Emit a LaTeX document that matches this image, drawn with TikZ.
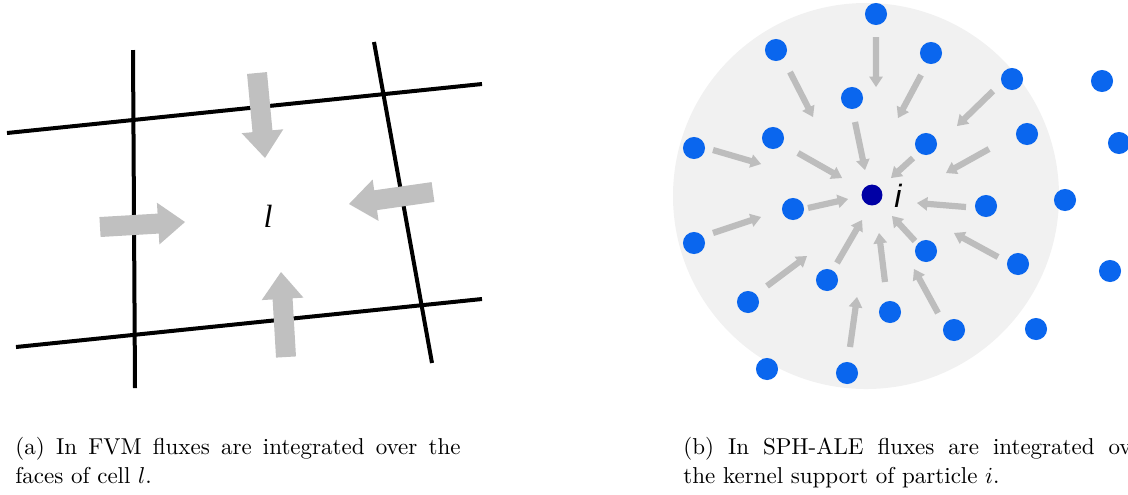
\documentclass[tikz,border=0pt]{standalone}
\usepackage{fontspec}
\newfontfamily\timesfam{Liberation Serif}
\newfontfamily\arialfam{Liberation Sans}
\usetikzlibrary{calc}
\definecolor{fluxgray}{HTML}{C0C0C0}
\definecolor{arrowgray}{HTML}{BDBDBD}
\definecolor{kernelgray}{HTML}{F1F1F1}
\definecolor{partblue}{RGB}{10,102,238}
\definecolor{centerblue}{RGB}{0,0,165}
% #1 tail, #2 tip, #3 shaft half width, #4 head half width, #5 head length, #6 style
\newcommand{\blockarrow}[6]{%
  \coordinate (#1-base) at ($(#2)!#5!(#1)$);
  \fill[#6] ($(#1)!#3!90:(#2)$) -- ($(#1-base)!#3!90:(#2)$) -- ($(#1-base)!#4!90:(#2)$) -- (#2)
    -- ($(#1-base)!#4!-90:(#2)$) -- ($(#1-base)!#3!-90:(#2)$) -- ($(#1)!#3!-90:(#2)$) -- cycle;
}
\newcommand{\bigflux}[2]{\blockarrow{#1}{#2}{4.35pt}{9.1pt}{11.7pt}{bigfluxfill}}
\newcommand{\smallflux}[2]{\blockarrow{#1}{#2}{1.35pt}{3pt}{4.5pt}{smallfluxfill}}
\begin{document}
\begin{tikzpicture}[x=0.435pt,y=-0.435pt,
  gridline/.style={line width=1.74pt, black},
  bigfluxfill/.style={fill=fluxgray},
  smallfluxfill/.style={fill=arrowgray},
  particle/.style={circle, fill=partblue, minimum size=9.6pt, inner sep=0pt},
  centerparticle/.style={circle, fill=centerblue, minimum size=9.1pt, inner sep=0pt},
  captext/.style={anchor=base west, inner sep=0pt, font=\fontsize{10}{12}\selectfont}]
\useasboundingbox (0,0) rectangle (1128,494);
\clip (0,0) rectangle (1128,494);

% ---------- (a) FVM cell ----------
\draw[gridline] (7,133) -- (482,84);
\draw[gridline] (16,347) -- (482,299);
\draw[gridline] (133,50) -- (135,388);
\draw[gridline] (374,42) -- (432,363);

\coordinate (ft1) at (257,73);  \coordinate (fh1) at (265,158);
\coordinate (ft2) at (100,227); \coordinate (fh2) at (185,222);
\coordinate (ft3) at (433,192); \coordinate (fh3) at (349,204);
\coordinate (ft4) at (286,357); \coordinate (fh4) at (281,272);
\bigflux{ft1}{fh1}
\bigflux{ft2}{fh2}
\bigflux{ft3}{fh3}
\bigflux{ft4}{fh4}

\node[anchor=base, inner sep=0pt, font=\timesfam\itshape\fontsize{14}{16}\selectfont] (cell) at (268,227) {l};

% ---------- (b) SPH-ALE kernel ----------
\fill[kernelgray] (866,196) circle[radius=83.96pt];

\foreach \n/\tx/\ty/\hx/\hy in {
  1/876/37/876/87, 2/790/72/813/117, 3/921/75/898/118, 4/993/91/957/126,
  5/855/122/865/170, 6/713/150/761/164, 7/798/153/842/178, 8/913/158/891/178,
  9/989/149/946/173, 10/808/208/848/199, 11/966/207/917/203, 12/713/233/761/217,
  13/837/263/862/220, 14/885/282/879/233, 15/915/241/892/216, 16/998/257/954/233,
  17/767/286/807/256, 18/850/347/857/297, 19/938/313/914/269}{
  \coordinate (st\n) at (\tx,\ty);
  \coordinate (sh\n) at (\hx,\hy);
  \smallflux{st\n}{sh\n}
}

\foreach \n/\px/\py in {
  1/876/14, 2/776/50, 3/931/53, 4/1012/79, 5/1102/81, 6/852/98, 7/694/148,
  8/773/138, 9/926/144, 10/1027/134, 11/1119/143, 12/1065/200, 13/793/209,
  14/986/206, 15/694/243, 16/926/251, 17/1018/264, 18/1110/271, 19/827/280,
  20/748/302, 21/890/312, 22/954/330, 23/1036/329, 24/767/369, 25/847/373}{
  \node[particle] (p\n) at (\px,\py) {};
}
\node[centerparticle] (ci) at (872,195) {};
\node[anchor=base, inner sep=0pt, font=\arialfam\itshape\fontsize{14}{16}\selectfont] (ilabel) at (898,207) {i};

% ---------- captions ----------
\node[captext] (capa1) at (15,454) {\makebox[193.6pt][s]{(a) In FVM fluxes are integrated over the}};
\node[captext] (capa2) at (15,483) {faces of cell $l$.};
\node[captext] (capb1) at (683,454) {\makebox[203pt][s]{(b) In SPH-ALE fluxes are integrated over}};
\node[captext] (capb2) at (683,483) {the kernel support of particle $i$.};
\end{tikzpicture}
\end{document}
